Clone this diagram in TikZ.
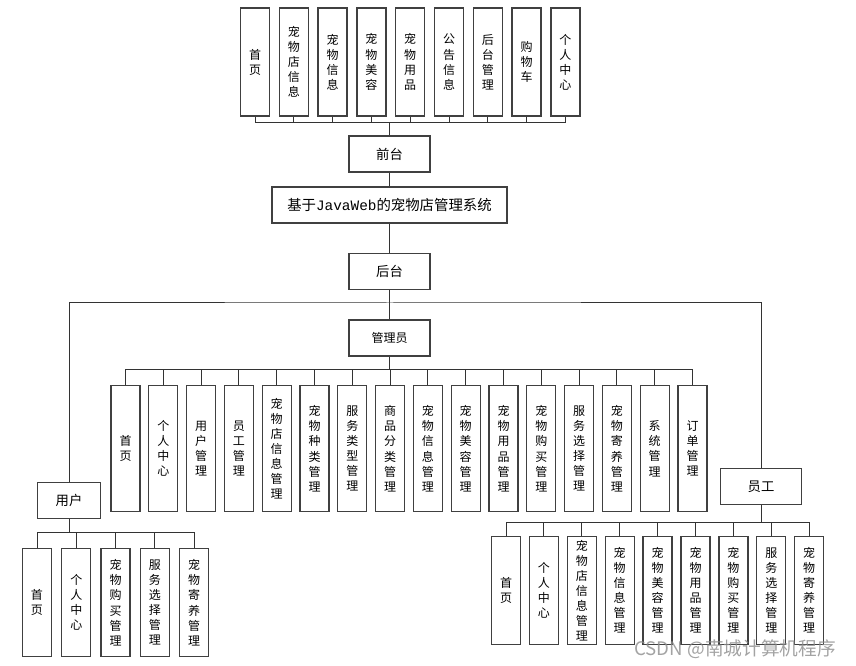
\documentclass[tikz,border=0pt]{standalone}
\usepackage{fontspec}
\setmainfont{Noto Sans CJK SC}
\setmonofont{Liberation Mono}
\usetikzlibrary{positioning}

\tikzset{
    box/.style={draw=black!75, line width=1pt, fill=white, inner sep=0pt, align=center},
    wide/.style={box, minimum width=60.75pt, minimum height=27pt, font=\fontsize{10}{12}\selectfont},
    tall/.style={box, minimum width=21.75pt, minimum height=#1, font=\fontsize{9}{11.3}\selectfont},
    link/.style={draw=black!80, line width=0.75pt},
}

\begin{document}
\begin{tikzpicture}[x=0.75pt, y=-0.75pt]
        \useasboundingbox (0, 0) rectangle (856, 666);

        % front end
        \foreach \txt [count=\i from 0] in {首\\页, 宠\\物\\店\\信\\息, 宠\\物\\信\\息, 宠\\物\\美\\容,
            宠\\物\\用\\品, 公\\告\\信\\息, 后\\台\\管\\理, 购\\物\\车, 个\\人\\中\\心}
            \node[tall=81pt] at ({255+38.8*\i}, 62)(qt\i){\txt};
        \node[wide] at (389.5, 154)(qt){前台};
        \node[wide, minimum width=176.25pt, font=\fontsize{10.8}{13}\selectfont] at (389.5, 205)(xt){基于\texttt{JavaWeb}的宠物店管理系统};
        \node[wide] at (389.5, 271.5)(ht){后台};
        \node[wide, font=\fontsize{9}{11}\selectfont] at (389.5, 338)(gly){管理员};
        \node[wide, minimum width=47.25pt] at (69, 500.7)(yh){用户};
        \node[wide] at (761, 486.3)(yg){员工};

        % admin
        \foreach \txt [count=\i from 0] in {首\\页, 个\\人\\中\\心, 用\\户\\管\\理, 员\\工\\管\\理,
            宠\\物\\店\\信\\息\\管\\理, 宠\\物\\种\\类\\管\\理, 服\\务\\类\\型\\管\\理, 商\\品\\分\\类\\管\\理,
            宠\\物\\信\\息\\管\\理, 宠\\物\\美\\容\\管\\理, 宠\\物\\用\\品\\管\\理, 宠\\物\\购\\买\\管\\理,
            服\\务\\选\\择\\管\\理, 宠\\物\\寄\\养\\管\\理, 系\\统\\管\\理, 订\\单\\管\\理}
            \node[tall=94.5pt] at ({125.5+37.8*\i}, 448.7)(gly\i){\txt};

        % user
        \foreach \txt [count=\i from 0] in {首\\页, 个\\人\\中\\心, 宠\\物\\购\\买\\管\\理,
            服\\务\\选\\择\\管\\理, 宠\\物\\寄\\养\\管\\理}
            \node[tall=81pt] at ({37+39.25*\i}, 602.7)(yh\i){\txt};

        % staff
        \foreach \txt [count=\i from 0] in {首\\页, 个\\人\\中\\心, 宠\\物\\店\\信\\息\\管\\理,
            宠\\物\\信\\息\\管\\理, 宠\\物\\美\\容\\管\\理, 宠\\物\\用\\品\\管\\理, 宠\\物\\购\\买\\管\\理,
            服\\务\\选\\择\\管\\理, 宠\\物\\寄\\养\\管\\理}
            \node[tall=80.7pt] at ({506+37.9*\i}, 590.5)(yg\i){\txt};

        \coordinate (qtbus) at (389.5, 123);
        \coordinate (htbus) at (389.5, 303);
        \coordinate (glybus) at (389.5, 369);
        \coordinate (yhbus) at (69, 532);
        \coordinate (ygbus) at (761, 522.7);

        \foreach \i in {0,...,8}
            \draw[link] (qt\i.south) |- (qtbus) -- (qt.north);
        \draw[link] (qt.south) -- (xt.north);
        \draw[link] (xt.south) -- (ht.north);
        \draw[link] (ht.south) -- (gly.north);
        \draw[link] (yh.north) |- (htbus) -| (yg.north);
        \foreach \i in {0,...,15}
            \draw[link] (gly\i.north) |- (glybus) -- (gly.south);
        \foreach \i in {0,...,4}
            \draw[link] (yh\i.north) |- (yhbus) -- (yh.south);
        \foreach \i in {0,...,8}
            \draw[link] (yg\i.north) |- (ygbus) -- (yg.south);

        \node[text=black!45, opacity=0.8, font=\fontsize{14}{14}\selectfont] at (735, 649)(csdn){CSDN @南城计算机程序};
    \end{tikzpicture}
\end{document}
